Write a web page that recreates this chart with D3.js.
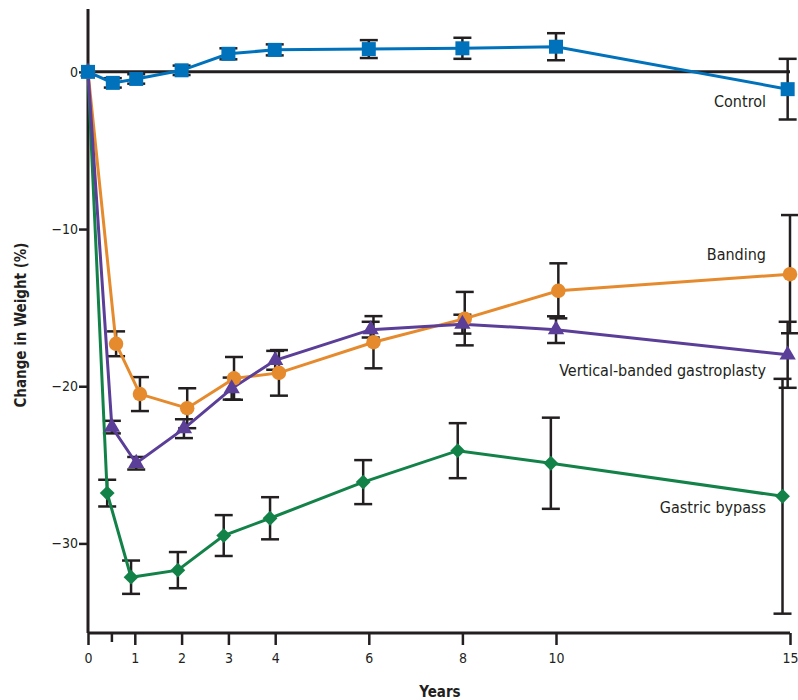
<!DOCTYPE html>
<html><head><meta charset="utf-8">
<script src="https://cdn.jsdelivr.net/npm/d3@7"></script>
<style>
body{margin:0;background:#fff;}
text{font-family:"DejaVu Sans Condensed","Liberation Sans Narrow",sans-serif;fill:#231f20;}
</style></head><body>
<svg id="chart" width="798" height="700"></svg>
<script>
// ---- data ----
const xTicks = [0, 0.5, 1, 2, 3, 4, 6, 8, 10, 15];
const xTickLabels = ["0", "", "1", "2", "3", "4", "6", "8", "10", "15"];
const yTicks = [0, -10, -20, -30];
const yTickLabels = ["0", "\u221210", "\u221220", "\u221230"];

const seriesNames = ["Gastric bypass", "Banding", "Vertical-banded gastroplasty", "Control"];

const bypassYears = [0, 0.41, 0.92, 1.92, 2.9, 3.89, 5.88, 7.9, 9.89, 14.84];
const bypassVals  = [0, -26.8, -32.15, -31.7, -29.5, -28.4, -26.1, -24.1, -24.9, -27.0];
const bypassErr   = [0, 0.85, 1.06, 1.15, 1.3, 1.34, 1.4, 1.75, 2.9, 7.47];

const bandingYears = [0, 0.6, 1.11, 2.12, 3.12, 4.08, 6.1, 8.05, 10.05, 15];
const bandingVals  = [0, -17.3, -20.5, -21.4, -19.5, -19.15, -17.2, -15.7, -13.93, -12.87];
const bandingErr   = [0, 0.79, 1.08, 1.27, 1.36, 1.45, 1.66, 1.7, 1.75, 3.76];

const vbgYears = [0, 0.51, 1.03, 2.05, 3.07, 4.0, 6.04, 8.0, 10.0, 14.95];
const vbgVals  = [0, -22.6, -24.9, -22.7, -20.15, -18.35, -16.4, -16.05, -16.4, -18.0];
const vbgErr   = [0, 0.4, 0.4, 0.6, 0.7, 0.6, 0.5, 0.6, 0.85, 2.1];

const controlYears = [0, 0.53, 1.03, 2.0, 3.0, 3.99, 6.0, 8.0, 10.0, 14.95];
const controlVals  = [0, -0.7, -0.45, 0.1, 1.15, 1.4, 1.45, 1.5, 1.6, -1.1];
const controlErr   = [0, 0.3, 0.3, 0.3, 0.35, 0.35, 0.57, 0.67, 0.86, 1.93];

// ---- styling / layout ----
const colors = {"Gastric bypass":"#138248","Banding":"#e68a2e","Vertical-banded gastroplasty":"#5a3e98","Control":"#0072bb"};
const symbols = {"Gastric bypass":"diamond","Banding":"circle","Vertical-banded gastroplasty":"triangle","Control":"square"};
const labelPos = {"Control":-1.9,"Banding":-11.6,"Vertical-banded gastroplasty":-19.0,"Gastric bypass":-27.7};

const series = [
  {name:"Gastric bypass", x:bypassYears, y:bypassVals, e:bypassErr},
  {name:"Banding", x:bandingYears, y:bandingVals, e:bandingErr},
  {name:"Vertical-banded gastroplasty", x:vbgYears, y:vbgVals, e:vbgErr},
  {name:"Control", x:controlYears, y:controlVals, e:controlErr}
].map(s => ({name:s.name, pts:s.x.map((xv,i)=>({x:xv, y:s.y[i], e:s.e[i]}))}));

const svg = d3.select("#chart");
const x = d3.scaleLinear().domain([0,15]).range([88,790]);
const y = d3.scaleLinear().domain([-35.7,4]).range([633,9]);
const ink = "#231f20";

// axes
const xAxis = svg.append("g").attr("transform",`translate(0,${y(-35.7)})`)
  .call(d3.axisBottom(x).tickValues(xTicks).tickSize(12).tickPadding(8)
    .tickFormat((d,i)=>xTickLabels[i]));
xAxis.select(".domain").attr("stroke",ink).attr("stroke-width",3).attr("d",`M${x(0)},0H${x(15)}`);
xAxis.selectAll(".tick line").attr("stroke",ink).attr("stroke-width",2.5)
  .attr("y2",(d)=> d===0.5 ? 9 : 12);
xAxis.selectAll(".tick text").attr("font-size",14).attr("fill","#444");

const yAxis = svg.append("g").attr("transform",`translate(${x(0)},0)`)
  .call(d3.axisLeft(y).tickValues(yTicks).tickSize(9).tickPadding(1)
    .tickFormat((d,i)=>yTickLabels[i]));
yAxis.select(".domain").attr("stroke",ink).attr("stroke-width",3).attr("d",`M0,${y(4)}V${y(-35.7)}`);
yAxis.selectAll(".tick line").attr("stroke",ink).attr("stroke-width",2.5);
yAxis.selectAll(".tick text").attr("font-size",14).attr("fill","#444");

// zero reference line
svg.append("line").attr("x1",x(0)).attr("x2",x(15)).attr("y1",y(0)).attr("y2",y(0))
  .attr("stroke",ink).attr("stroke-width",3);

// axis titles
svg.append("text").attr("transform",`translate(26,325) rotate(-90)`)
  .attr("text-anchor","middle").attr("font-size",15).attr("font-weight","bold").attr("fill","#333")
  .text("Change in Weight (%)");
svg.append("text").attr("x",440).attr("y",697).attr("text-anchor","middle")
  .attr("font-size",15).attr("font-weight","bold").attr("fill","#333").text("Years");

// error bars
const eb = svg.append("g");
series.forEach(s=>{
  s.pts.filter(p=>p.e>0).forEach(p=>{
    const cx=x(p.x), y1=y(p.y+p.e), y2=y(p.y-p.e);
    eb.append("line").attr("x1",cx).attr("x2",cx).attr("y1",y1).attr("y2",y2).attr("stroke",ink).attr("stroke-width",2.5);
    [y1,y2].forEach(yy=>eb.append("line").attr("x1",cx-9).attr("x2",cx+9).attr("y1",yy).attr("y2",yy).attr("stroke",ink).attr("stroke-width",2.5));
  });
});

// lines and markers
const line = d3.line().x(d=>x(d.x)).y(d=>y(d.y));
const symGen = {
  circle: d3.symbol().type(d3.symbolCircle).size(165),
  square: d3.symbol().type(d3.symbolSquare).size(196),
  triangle: d3.symbol().type(d3.symbolTriangle).size(115),
  diamond: d3.symbol().type(d3.symbolSquare).size(110)
};
series.forEach(s=>{
  svg.append("path").datum(s.pts).attr("d",line).attr("fill","none")
    .attr("stroke",colors[s.name]).attr("stroke-width",3);
});
series.forEach(s=>{
  const t = symbols[s.name];
  svg.append("g").selectAll("path").data(s.pts).join("path")
    .attr("d",symGen[t]())
    .attr("transform",d=>`translate(${x(d.x)},${y(d.y)})${t==="diamond"?" rotate(45)":""}`)
    .attr("fill",colors[s.name]);
});

// series labels
series.forEach(s=>{
  svg.append("text").attr("x",766).attr("y",y(labelPos[s.name])+5.5)
    .attr("text-anchor","end").attr("font-size",16).text(s.name);
});
</script>
</body></html>
